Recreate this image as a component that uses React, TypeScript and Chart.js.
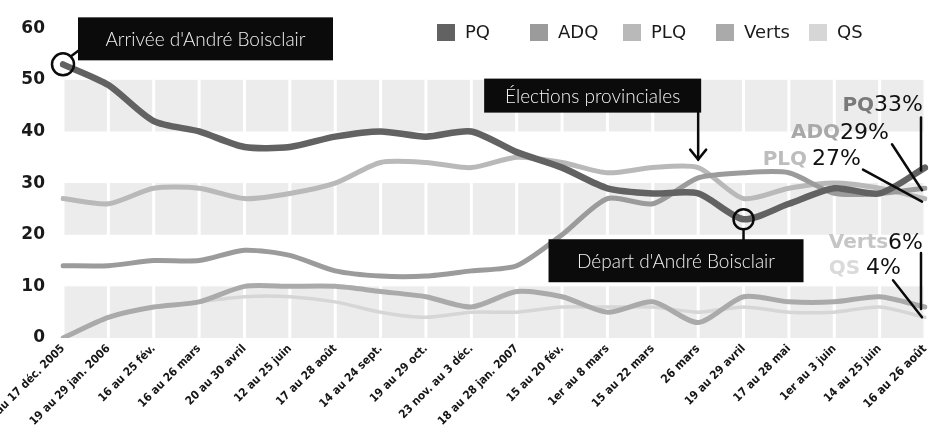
import React, { useEffect, useRef } from 'react';
import { Chart, registerables } from 'chart.js';

Chart.register(...registerables);

// ---- data ----
const categories = [
  'au 17 déc. 2005',
  '19 au 29 jan. 2006',
  '16 au 25 fév.',
  '16 au 26 mars',
  '20 au 30 avril',
  '12 au 25 juin',
  '17 au 28 août',
  '14 au 24 sept.',
  '19 au 29 oct.',
  '23 nov. au 3 déc.',
  '18 au 28 jan. 2007',
  '15 au 20 fév.',
  '1er au 8 mars',
  '15 au 22 mars',
  '26 mars',
  '19 au 29 avril',
  '17 au 28 mai',
  '1er au 3 juin',
  '14 au 25 juin',
  '16 au 26 août',
];
const emphasizedCategories = [14, 19];

const pqValues = [53, 49, 42, 40, 37, 37, 39, 40, 39, 40, 36, 33, 29, 28, 28, 23, 26, 29, 28, 33];
const adqValues = [14, 14, 15, 15, 17, 16, 13, 12, 12, 13, 14, 20, 27, 26, 31, 32, 32, 28, 28, 29];
const plqValues = [27, 26, 29, 29, 27, 28, 30, 34, 34, 33, 35, 34, 32, 33, 33, 27, 29, 30, 29, 27];
const vertsValues = [0, 4, 6, 7, 10, 10, 10, 9, 8, 6, 9, 8, 5, 7, 3, 8, 7, 7, 8, 6];
const qsValues = [null, null, 6, 7, 8, 8, 7, 5, 4, 5, 5, 6, 6, 6, 5, 6, 5, 5, 6, 4];

const seriesNames = ['PQ', 'ADQ', 'PLQ', 'Verts', 'QS'];
const seriesValues = [pqValues, adqValues, plqValues, vertsValues, qsValues];
const seriesColors = ['#626262', '#9b9b9b', '#b9b9b9', '#aaaaaa', '#d6d6d6'];
const seriesLabelColors = ['#7a7a7a', '#a8a8a8', '#bdbdbd', '#c6c6c6', '#dadada'];
const seriesWidths = [6.5, 5, 5, 5, 3.5];

const yTickValues = [0, 10, 20, 30, 40, 50, 60];
const bandRanges = [[0, 10], [20, 30], [40, 50]];

const annotationArrival = "Arrivée d'André Boisclair";
const annotationElection = 'Élections provinciales';
const annotationDeparture = "Départ d'André Boisclair";

// ---- plugins ----
const bandsPlugin = {
  id: 'bands',
  beforeDatasetsDraw(chart: any) {
    const { ctx, scales } = chart;
    const x = scales.x;
    const y = scales.y;
    ctx.save();
    ctx.fillStyle = '#ececec';
    for (const [lo, hi] of bandRanges) {
      const top = y.getPixelForValue(hi);
      const bottom = y.getPixelForValue(lo);
      for (let i = 0; i < categories.length - 1; i++) {
        const x0 = x.getPixelForValue(i) + 1.5;
        const x1 = x.getPixelForValue(i + 1) - 1.5;
        ctx.fillRect(x0, top, x1 - x0, bottom - top);
      }
    }
    ctx.restore();
  },
};

function drawBox(ctx: CanvasRenderingContext2D, text: string, left: number, top: number, w: number, h: number) {
  ctx.fillStyle = '#0b0b0b';
  ctx.fillRect(left, top, w, h);
  ctx.fillStyle = '#f2f2f2';
  ctx.font = '300 19px Lato';
  ctx.textAlign = 'center';
  ctx.textBaseline = 'middle';
  ctx.fillText(text, left + w / 2, top + h / 2 + 1);
}

function drawLine(ctx: CanvasRenderingContext2D, x0: number, y0: number, x1: number, y1: number, w = 2.5) {
  ctx.strokeStyle = '#0b0b0b';
  ctx.lineWidth = w;
  ctx.beginPath();
  ctx.moveTo(x0, y0);
  ctx.lineTo(x1, y1);
  ctx.stroke();
}

function drawEndLabel(
  ctx: CanvasRenderingContext2D,
  name: string,
  pct: string,
  nameColor: string,
  right: number,
  cy: number,
  gap: number,
) {
  ctx.textBaseline = 'middle';
  ctx.textAlign = 'right';
  ctx.font = '22px "DejaVu Sans"';
  const pw = ctx.measureText(pct).width;
  ctx.fillStyle = '#111';
  ctx.fillText(pct, right, cy);
  ctx.font = 'bold 20px "DejaVu Sans"';
  ctx.fillStyle = nameColor;
  ctx.fillText(name, right - pw - gap, cy);
}

const annotationsPlugin = {
  id: 'annotations',
  afterDatasetsDraw(chart: any) {
    const { ctx, scales, chartArea } = chart;
    const x = scales.x;
    const y = scales.y;
    ctx.save();
    ctx.lineCap = 'round';

    // Arrival
    {
      const px = x.getPixelForValue(0);
      const py = y.getPixelForValue(pqValues[0]);
      ctx.strokeStyle = '#0b0b0b';
      ctx.lineWidth = 2.5;
      ctx.beginPath();
      ctx.arc(px, py, 11, 0, Math.PI * 2);
      ctx.stroke();
      drawLine(ctx, px + 8, py - 8, px + 16, py - 14);
      drawBox(ctx, annotationArrival, px + 15, py - 47, 255, 43);
    }

    // Elections
    {
      const i = 14;
      const px = x.getPixelForValue(i);
      const py = y.getPixelForValue(plqValues[i]);
      drawLine(ctx, px, py - 56, px, py - 8);
      ctx.beginPath();
      ctx.moveTo(px - 8, py - 18);
      ctx.lineTo(px, py - 8);
      ctx.lineTo(px + 8, py - 18);
      ctx.stroke();
      drawBox(ctx, annotationElection, px - 214, py - 89, 217, 34);
    }

    // Departure
    {
      const i = 15;
      const px = x.getPixelForValue(i);
      const py = y.getPixelForValue(pqValues[i]);
      ctx.strokeStyle = '#0b0b0b';
      ctx.lineWidth = 2.5;
      ctx.beginPath();
      ctx.arc(px, py, 10, 0, Math.PI * 2);
      ctx.stroke();
      drawLine(ctx, px, py + 10, px, py + 20);
      drawBox(ctx, annotationDeparture, px - 195, py + 20, 255, 43);
    }

    // End labels
    {
      const last = categories.length - 1;
      const lx = x.getPixelForValue(last);
      const yp = (v: number) => y.getPixelForValue(v);
      const pq = pqValues[last];
      const adq = adqValues[last];
      const plq = plqValues[last];
      const ve = vertsValues[last];
      const qs = qsValues[last] as number;

      drawEndLabel(ctx, 'PQ', `${pq}%`, seriesLabelColors[0], lx - 2, yp(pq) - 62, 0);
      drawLine(ctx, lx - 4, yp(pq) - 50, lx - 4, yp(pq) + 3);

      drawEndLabel(ctx, 'ADQ', `${adq}%`, seriesLabelColors[1], lx - 36, yp(adq) - 55, 0);
      drawLine(ctx, lx - 33, yp(adq) - 44, lx - 3, yp(adq) + 2);

      drawEndLabel(ctx, 'PLQ', `${plq}%`, seriesLabelColors[2], lx - 64, yp(plq) - 39, 5);
      drawLine(ctx, lx - 62, yp(plq) - 29, lx - 3, yp(plq) + 3);

      drawEndLabel(ctx, 'Verts', `${ve}%`, seriesLabelColors[3], lx - 2, yp(ve) - 64, 0);
      drawLine(ctx, lx - 4, yp(ve) - 54, lx - 4, yp(ve) + 2);

      drawEndLabel(ctx, 'QS', `${qs}%`, seriesLabelColors[4], lx - 24, yp(qs) - 49, 6);
      drawLine(ctx, lx - 32, yp(qs) - 37, lx - 3, yp(qs));
    }

    // Legend
    {
      const left = chartArea.right - 488;
      const cy = 33;
      ctx.font = '18px "DejaVu Sans"';
      ctx.textAlign = 'left';
      ctx.textBaseline = 'middle';
      seriesNames.forEach((name, i) => {
        const sx = left + i * 93;
        ctx.fillStyle = seriesColors[i];
        ctx.fillRect(sx, cy - 9, 18, 17);
        ctx.fillStyle = '#1a1a1a';
        ctx.fillText(name, sx + 28, cy);
      });
    }

    ctx.restore();
  },
};

export default function App() {
  const ref = useRef<HTMLCanvasElement>(null);

  useEffect(() => {
    const canvas = ref.current;
    if (!canvas) return;
    const chart = new Chart(canvas, {
      type: 'line',
      data: {
        labels: categories,
        datasets: seriesNames.map((name, i) => ({
          label: name,
          data: seriesValues[i] as any,
          borderColor: seriesColors[i],
          backgroundColor: seriesColors[i],
          borderWidth: seriesWidths[i],
          pointRadius: 0,
          tension: 0.25,
          fill: false,
          borderJoinStyle: 'round' as const,
          borderCapStyle: 'round' as const,
        })),
      },
      options: {
        responsive: false,
        animation: false,
        layout: { padding: { top: 18, right: 4, left: 0, bottom: 0 } },
        plugins: {
          legend: { display: false },
          tooltip: { enabled: false },
        },
        scales: {
          x: {
            grid: { display: false, drawTicks: false },
            border: { display: false },
            ticks: {
              autoSkip: false,
              maxRotation: 45,
              minRotation: 45,
              padding: 4,
              color: '#161616',
              font: (c: any) => ({
                family: '"DejaVu Sans Condensed", "DejaVu Sans"',
                size: emphasizedCategories.includes(c.index) ? 12 : 11.5,
                weight: 'bold',
              }),
            },
            afterFit: (s: any) => {
              s.height = 97;
              s.paddingLeft = 0;
              s.paddingRight = 0;
            },
          },
          y: {
            min: 0,
            max: 60,
            grid: { display: false, drawTicks: false },
            border: { display: false },
            ticks: {
              padding: 18,
              color: '#1a1a1a',
              font: { family: '"DejaVu Sans"', size: 17, weight: 'bold' },
            },
            afterBuildTicks: (s: any) => {
              s.ticks = yTickValues.map((v) => ({ value: v }));
            },
            afterFit: (s: any) => {
              s.width = 63;
            },
          },
        },
      },
      plugins: [bandsPlugin, annotationsPlugin],
    } as any);
    return () => chart.destroy();
  }, []);

  return (
    <div style={{ position: 'absolute', left: 0, top: 0, width: 929, height: 435, background: '#fff' }}>
      <canvas ref={ref} width={929} height={435} style={{ display: 'block' }} />
    </div>
  );
}
